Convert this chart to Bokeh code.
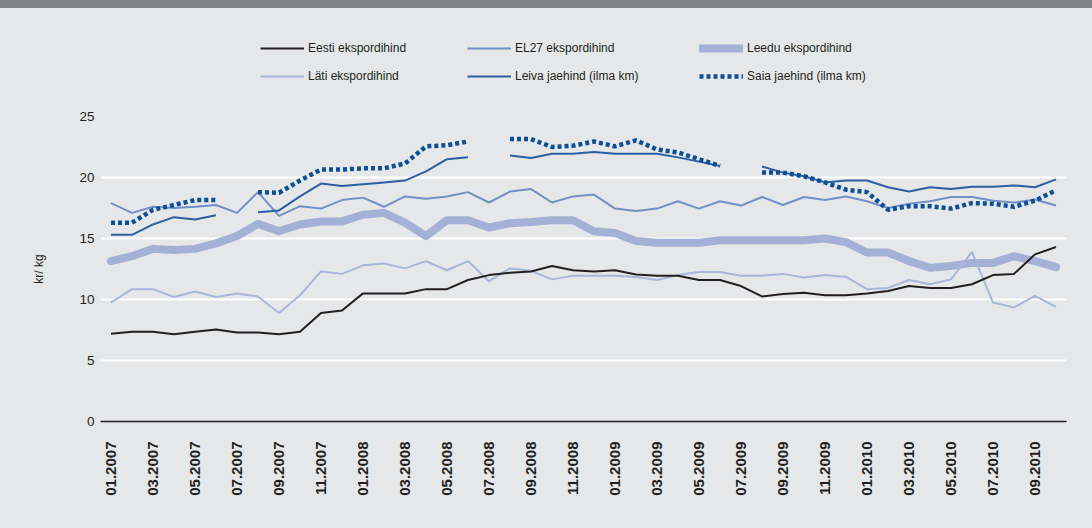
import numpy as np
from bokeh.plotting import figure
from bokeh.layouts import column
from bokeh.models import Range1d, FixedTicker, Legend, LegendItem
from bokeh.embed import file_html
from bokeh.resources import INLINE

nan = np.nan

months = ["01.2007", "02.2007", "03.2007", "04.2007", "05.2007", "06.2007",
          "07.2007", "08.2007", "09.2007", "10.2007", "11.2007", "12.2007",
          "01.2008", "02.2008", "03.2008", "04.2008", "05.2008", "06.2008",
          "07.2008", "08.2008", "09.2008", "10.2008", "11.2008", "12.2008",
          "01.2009", "02.2009", "03.2009", "04.2009", "05.2009", "06.2009",
          "07.2009", "08.2009", "09.2009", "10.2009", "11.2009", "12.2009",
          "01.2010", "02.2010", "03.2010", "04.2010", "05.2010", "06.2010",
          "07.2010", "08.2010", "09.2010", "10.2010"]

eesti = [7.2, 7.35, 7.35, 7.15, 7.35, 7.55, 7.3, 7.3, 7.15, 7.35,
         8.9, 9.1, 10.5, 10.5, 10.5, 10.85, 10.85, 11.6, 12.0, 12.2,
         12.3, 12.75, 12.4, 12.3, 12.4, 12.05, 11.95, 11.95, 11.6, 11.6,
         11.1, 10.25, 10.45, 10.55, 10.35, 10.35, 10.5, 10.7, 11.1, 10.95,
         10.95, 11.25, 12.0, 12.1, 13.7, 14.3]

el27 = [17.9, 17.1, 17.6, 17.5, 17.6, 17.75, 17.1, 18.8, 16.85, 17.65,
        17.45, 18.15, 18.35, 17.6, 18.45, 18.25, 18.45, 18.8, 17.95, 18.85,
        19.05, 17.95, 18.45, 18.6, 17.45, 17.25, 17.45, 18.05, 17.45, 18.05,
        17.7, 18.4, 17.75, 18.4, 18.15, 18.45, 18.05, 17.5, 17.85, 18.05,
        18.4, 18.4, 18.1, 17.95, 18.2, 17.7]

leedu = [13.15, 13.55, 14.15, 14.05, 14.15, 14.6, 15.2, 16.2, 15.6, 16.15,
         16.4, 16.4, 16.95, 17.1, 16.3, 15.2, 16.5, 16.5, 15.9, 16.25,
         16.35, 16.5, 16.5, 15.6, 15.45, 14.8, 14.65, 14.65, 14.65, 14.85,
         14.85, 14.85, 14.85, 14.85, 15.0, 14.7, 13.85, 13.85, 13.15, 12.6,
         12.75, 13.0, 13.0, 13.55, 13.15, 12.65]

lati = [9.75, 10.85, 10.85, 10.2, 10.65, 10.2, 10.5, 10.25, 8.9, 10.35,
        12.3, 12.1, 12.8, 12.95, 12.55, 13.15, 12.4, 13.15, 11.5, 12.55,
        12.35, 11.65, 11.95, 11.95, 11.95, 11.85, 11.6, 12.0, 12.25, 12.25,
        11.95, 11.95, 12.1, 11.8, 12.0, 11.85, 10.85, 10.95, 11.6, 11.25,
        11.65, 13.9, 9.75, 9.35, 10.3, 9.4]

leiva = [15.3, 15.3, 16.15, 16.75, 16.55, 16.9, nan, 17.15, 17.3, 18.45,
         19.5, 19.3, 19.45, 19.6, 19.75, 20.5, 21.5, 21.65, nan, 21.8,
         21.6, 21.95, 21.95, 22.1, 21.95, 21.95, 21.95, 21.65, 21.3, 20.95,
         nan, 20.9, 20.4, 20.1, 19.6, 19.75, 19.75, 19.2, 18.85, 19.2,
         19.05, 19.25, 19.25, 19.35, 19.2, 19.85]

saia = [16.3, 16.3, 17.35, 17.75, 18.15, 18.15, nan, 18.8, 18.75, 19.75,
        20.65, 20.65, 20.75, 20.75, 21.15, 22.55, 22.65, 22.95, nan, 23.15,
        23.15, 22.5, 22.6, 22.95, 22.55, 23.05, 22.3, 22.05, 21.5, 20.95,
        nan, 20.4, 20.4, 20.1, 19.6, 19.0, 18.8, 17.35, 17.65, 17.65,
        17.45, 17.9, 17.85, 17.6, 18.1, 18.95]

series_names = ["Eesti ekspordihind", "EL27 ekspordihind", "Leedu ekspordihind",
                "Läti ekspordihind", "Leiva jaehind (ilma km)", "Saia jaehind (ilma km)"]
y_ticks = [0, 5, 10, 15, 20, 25]

BG = "#E6E7E8"
BAND = "#808184"
FONT = "Liberation Sans"
TXT = "#231F20"

data = {"eesti": eesti, "el27": el27, "leedu": leedu,
        "lati": lati, "leiva": leiva, "saia": saia}
styles = {
    "eesti": dict(line_color=TXT, line_width=2),
    "el27": dict(line_color="#7090C6", line_width=2),
    "leedu": dict(line_color="#A3B1D6", line_width=8, line_cap="round", line_join="round"),
    "lati": dict(line_color="#A8B6DA", line_width=2),
    "leiva": dict(line_color="#2C5FA4", line_width=2),
    "saia": dict(line_color="#0B4F94", line_width=4.5, line_dash="4 3"),
}
draw_order = ["leedu", "lati", "el27", "eesti", "leiva", "saia"]

x = np.arange(len(months))
xr = (-0.5, len(months) - 0.5)

# ---------- main chart ----------
p = figure(width=1092, height=422, output_backend="svg", toolbar_location=None,
           x_range=Range1d(*xr), y_range=Range1d(0, 25),
           min_border_left=100, min_border_right=26, min_border_top=10,
           min_border_bottom=107)
p.background_fill_color = BG
p.border_fill_color = BG
p.outline_line_color = None

for k in draw_order:
    p.line(x, np.array(data[k], dtype=float), **styles[k])

p.xaxis.ticker = FixedTicker(ticks=list(range(0, len(months), 2)))
p.xaxis.major_label_overrides = {i: months[i] for i in range(0, len(months), 2)}
p.xaxis.major_label_orientation = np.pi / 2
p.xaxis.major_label_text_font = FONT
p.xaxis.major_label_text_font_size = "15px"
p.xaxis.major_label_text_font_style = "bold"
p.xaxis.major_label_text_color = TXT
p.xaxis.major_label_standoff = 20
p.xaxis.axis_line_color = TXT
p.xaxis.axis_line_width = 1.5
p.xaxis.major_tick_line_color = None
p.xaxis.major_tick_in = 0
p.xaxis.major_tick_out = 0
p.xaxis.minor_tick_line_color = None

p.yaxis.ticker = FixedTicker(ticks=y_ticks)
p.yaxis.axis_line_color = None
p.yaxis.major_tick_line_color = None
p.yaxis.major_tick_in = 0
p.yaxis.major_tick_out = 0
p.yaxis.minor_tick_line_color = None
p.yaxis.major_label_text_font = FONT
p.yaxis.major_label_text_font_size = "13.5px"
p.yaxis.major_label_text_color = TXT
p.yaxis.major_label_standoff = 6
p.yaxis.axis_label = "kr/ kg"
p.yaxis.axis_label_text_font = FONT
p.yaxis.axis_label_text_font_size = "12px"
p.yaxis.axis_label_text_font_style = "normal"
p.yaxis.axis_label_text_color = TXT
p.yaxis.axis_label_standoff = 30

p.xgrid.grid_line_color = None
p.ygrid.grid_line_color = "white"
p.ygrid.grid_line_width = 2

# ---------- legend strip (same series, drawn outside its visible range) ----------
lg = figure(width=1092, height=98, output_backend="svg", toolbar_location=None,
            x_range=Range1d(*xr), y_range=Range1d(100, 101),
            x_axis_location=None, y_axis_location=None,
            min_border_left=100, min_border_right=26, min_border_top=0,
            min_border_bottom=0)
lg.background_fill_color = BG
lg.border_fill_color = BG
lg.outline_line_color = None
lg.grid.grid_line_color = None

rend = {k: lg.line(x, np.array(data[k], dtype=float), **styles[k]) for k in draw_order}


def make_legend(items, ncols, loc, label_width):
    leg = Legend(items=items, orientation="horizontal", ncols=ncols, location=loc)
    leg.label_text_font = FONT
    leg.label_text_font_size = "12px"
    leg.label_text_color = TXT
    leg.glyph_width = 44
    leg.glyph_height = 18
    leg.label_standoff = 4
    leg.label_width = label_width
    leg.spacing = 10
    leg.padding = 0
    leg.margin = 0
    leg.border_line_color = None
    leg.background_fill_alpha = 0
    return leg


legA = make_legend([LegendItem(label=series_names[0], renderers=[rend["eesti"]]),
                    LegendItem(label=series_names[3], renderers=[rend["lati"]])],
                   1, (160, 21), 100)
legB = make_legend([LegendItem(label=series_names[1], renderers=[rend["el27"]]),
                    LegendItem(label=series_names[2], renderers=[rend["leedu"]]),
                    LegendItem(label=series_names[4], renderers=[rend["leiva"]]),
                    LegendItem(label=series_names[5], renderers=[rend["saia"]])],
                   2, (367, 21), 174)
lg.add_layout(legA)
lg.add_layout(legB)

layout = column(lg, p, spacing=0)

html = file_html(layout, INLINE, title="Leiva ja saia hinnad")
style = ("<style>html, body { background: linear-gradient(to bottom, %s 0px, %s 8px, "
         "%s 8px, %s 100%%) !important; } body { padding-top: 8px !important; }</style>"
         % (BAND, BAND, BG, BG))
html = html.replace("</head>", style + "</head>", 1)
open("out.html", "w").write(html)
